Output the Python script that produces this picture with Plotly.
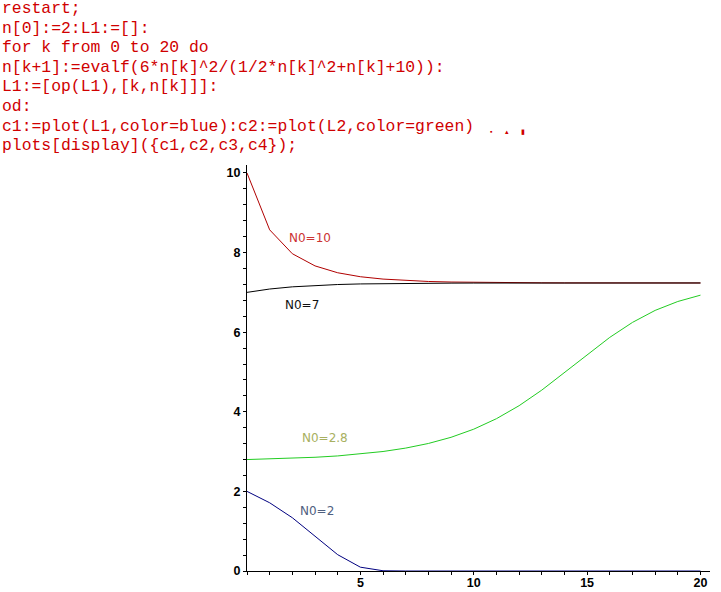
import plotly.graph_objects as go

# ---- data ----
k_steps = list(range(0, 21))
n0_10 = [10.0, 8.571, 7.971, 7.665, 7.493, 7.393, 7.334, 7.297, 7.274, 7.260, 7.251,
         7.246, 7.242, 7.240, 7.238, 7.238, 7.237, 7.237, 7.236, 7.236, 7.236]
n0_7 = [7.0, 7.084, 7.139, 7.175, 7.197, 7.212, 7.221, 7.227, 7.230, 7.232, 7.234,
        7.235, 7.235, 7.236, 7.236, 7.236, 7.236, 7.236, 7.236, 7.236, 7.236]
n0_28 = [2.8, 2.813, 2.832, 2.857, 2.891, 2.938, 3.002, 3.088, 3.204, 3.359, 3.563,
         3.826, 4.153, 4.544, 4.982, 5.436, 5.869, 6.245, 6.547, 6.771, 6.930]
n0_2 = [2.0, 1.714, 1.338, 0.878, 0.410, 0.096, 0.006, 0.0, 0.0, 0.0, 0.0,
        0.0, 0.0, 0.0, 0.0, 0.0, 0.0, 0.0, 0.0, 0.0, 0.0]

x_ticks = [5, 10, 15, 20]
x_tick_labels = ["5", "10", "15", "20"]
y_ticks = [0, 2, 4, 6, 8, 10]
y_tick_labels = ["0", "2", "4", "6", "8", "10"]

curve_labels = ["N0=10", "N0=7", "N0=2.8", "N0=2"]
label_x = [2.77, 2.41, 3.43, 3.07]
label_y = [8.37, 6.68, 3.34, 1.51]
label_colors = ["#cc3333", "#111111", "#a8b060", "#506080"]

code_lines = [
    "restart;",
    "n[0]:=2:L1:=[]:",
    "for k from 0 to 20 do",
    "n[k+1]:=evalf(6*n[k]^2/(1/2*n[k]^2+n[k]+10)):",
    "L1:=[op(L1),[k,n[k]]]:",
    "od:",
    "c1:=plot(L1,color=blue):c2:=plot(L2,color=green)",
    "plots[display]({c1,c2,c3,c4});",
]

# ---- figure ----
W, H = 721, 592
L, R, T, B = 247, 11, 165, 21
pw, ph = W - L - R, H - T - B

def px_to_paper(px, py):
    return (px - L) / pw, (H - B - py) / ph

fig = go.Figure()
fig.add_trace(go.Scatter(x=k_steps, y=n0_10, mode="lines", line=dict(color="#b00000", width=1)))
fig.add_trace(go.Scatter(x=k_steps, y=n0_28, mode="lines", line=dict(color="#22cc22", width=1)))
fig.add_trace(go.Scatter(x=k_steps, y=n0_2, mode="lines", line=dict(color="#000080", width=1)))
fig.add_trace(go.Scatter(x=k_steps, y=n0_7, mode="lines", line=dict(color="#000000", width=1)))

annotations = []
for t, xx, yy, c in zip(curve_labels, label_x, label_y, label_colors):
    annotations.append(dict(x=xx, y=yy, xref="x", yref="y", text=t, showarrow=False,
                            font=dict(family="DejaVu Sans", size=12, color=c)))

for i, line in enumerate(code_lines):
    xp, yp = px_to_paper(0, 8.5 + 19.6 * i)
    annotations.append(dict(x=xp, y=yp, xref="paper", yref="paper", text=line,
                            showarrow=False, xanchor="left", yanchor="middle",
                            font=dict(family="Liberation Mono, Courier New, monospace",
                                      size=16.4, color="#d00000")))
# small collapsed-output marks after the c1/c2 line
for mx, mark in zip([491, 507, 523], ["▪", "▴", "▮"]):
    xp, yp = px_to_paper(mx, 125)
    annotations.append(dict(x=xp, y=yp, xref="paper", yref="paper", text=mark,
                            showarrow=False, font=dict(size=7, color="#d00000")))

tickfont = dict(family="Liberation Sans Narrow, Arial Narrow, Liberation Sans", size=12.5, color="black")
fig.update_layout(
    width=W, height=H,
    margin=dict(l=L, r=R, t=T, b=B, autoexpand=False),
    paper_bgcolor="white", plot_bgcolor="white",
    showlegend=False,
    annotations=annotations,
    xaxis=dict(range=[0, 20.42], showgrid=False, zeroline=False, showline=True, automargin=False,
               linecolor="black", linewidth=1, ticks="outside", ticklen=3, tickcolor="black",
               tickvals=x_ticks, ticktext=["<b>%s</b>" % s for s in x_tick_labels], tickfont=tickfont,
               ticklabelstandoff=-3,
               minor=dict(dtick=1, tick0=0, ticks="outside", ticklen=3, tickcolor="black")),
    yaxis=dict(range=[0, 10.2], showgrid=False, zeroline=False, showline=True, automargin=False,
               linecolor="black", linewidth=1, ticks="outside", ticklen=3, tickcolor="black",
               tickvals=y_ticks, ticktext=["<b>%s</b>" % s for s in y_tick_labels], tickfont=tickfont,
               minor=dict(dtick=0.4, tick0=0, ticks="outside", ticklen=3, tickcolor="black")),
)
fig.write_html("out.html", config={"displayModeBar": False},
               post_script="document.body.style.margin='0';document.body.style.overflow='hidden';")
